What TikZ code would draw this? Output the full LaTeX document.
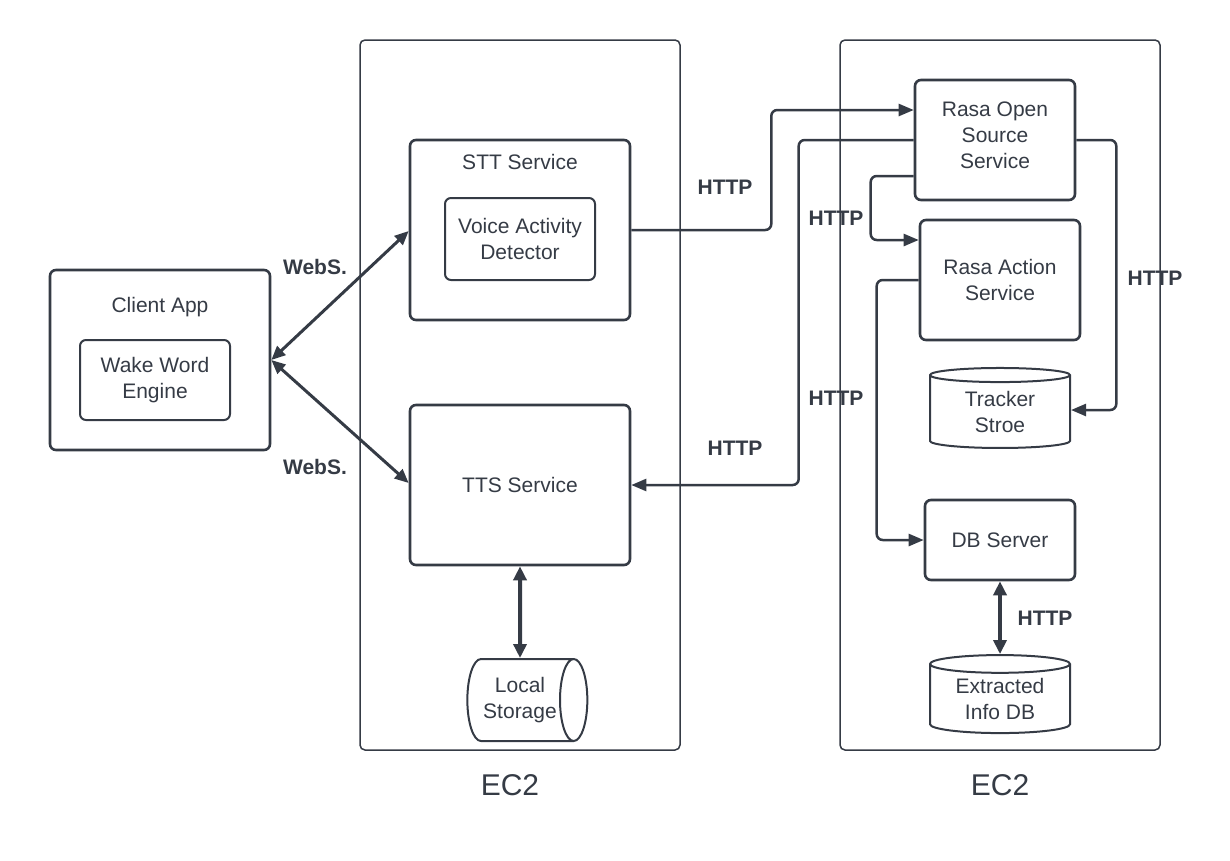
\documentclass[tikz,border=0pt]{standalone}
\usepackage{fontspec}
\setmainfont{Liberation Sans}
\usetikzlibrary{arrows.meta,shapes.geometric}
\definecolor{ink}{HTML}{353B45}
\begin{document}
\begin{tikzpicture}[x=1pt,y=-1pt,
    container/.style={draw=ink,line width=1.5pt,rounded corners=5pt},
    box/.style={draw=ink,line width=2.6pt,rounded corners=6pt,align=center,
      text=ink,font=\fontsize{21}{26}\selectfont,inner sep=0pt},
    title/.style={text=ink,font=\fontsize{21}{26}\selectfont},
    store/.style={cylinder,draw=ink,line width=2pt,align=center,text=ink,
      font=\fontsize{21}{26}\selectfont,inner sep=0pt},
    tag/.style={text=ink,font=\fontsize{21}{26}\selectfont\bfseries},
    link/.style={draw=ink,line width=2.5pt,rounded corners=6pt,
      -{Triangle[length=15pt,width=12pt]}},
    dlink/.style={draw=ink,line width=4pt,
      {Triangle[length=14pt,width=13pt]}-{Triangle[length=14pt,width=13pt]}},
    wlink/.style={draw=ink,line width=3pt,
      {Triangle[length=14pt,width=12pt]}-{Triangle[length=14pt,width=12pt]}}]
  \useasboundingbox (0,0) rectangle (1230,860);
  % the two EC2 machines
  \draw[container] (360,40) rectangle (680,750);
  \draw[container] (840,40) rectangle (1160,750);
  \node[text=ink,font=\fontsize{30}{36}\selectfont] (ec2left) at (510,785) {EC2};
  \node[text=ink,font=\fontsize{30}{36}\selectfont] (ec2right) at (1000,785) {EC2};
  % client
  \node[box,minimum width=220pt,minimum height=180pt] (client) at (160,360) {};
  \node[title] (clienttitle) at (160,307) {Client App};
  \node[box,line width=2pt,minimum width=150pt,minimum height=80pt] (wake) at (155,380) {Wake Word\\Engine};
  % first EC2
  \node[box,minimum width=220pt,minimum height=180pt] (stt) at (520,230) {};
  \node[title] (stttitle) at (520,162) {STT Service};
  \node[box,line width=2pt,minimum width=150pt,minimum height=82pt] (vad) at (520,239) {Voice Activity\\Detector};
  \node[box,minimum width=220pt,minimum height=160pt] (tts) at (520,485) {TTS Service};
  \node[store,aspect=0.6,minimum width=82pt,minimum height=120pt] (local) at (520,700) {Local\\Storage};
  % second EC2
  \node[box,minimum width=160pt,minimum height=120pt] (rasa) at (995,140) {Rasa Open\\Source\\Service\\[-17pt]};
  \node[box,minimum width=160pt,minimum height=120pt] (action) at (1000,280) {Rasa Action\\Service};
  \node[store,shape border rotate=90,aspect=0.2,minimum width=140pt,minimum height=80pt] (tracker) at (1000,412) {Tracker\\Stroe};
  \node[box,minimum width=150pt,minimum height=80pt] (dbserver) at (1000,540) {DB Server};
  \node[store,shape border rotate=90,aspect=0.2,minimum width=140pt,minimum height=78pt] (extracted) at (1000,699) {Extracted\\Info DB};
  % connectors
  \draw[wlink] (client.east) -- ([yshift=-1pt]stt.west);
  \draw[wlink] (client.east) -- ([yshift=2pt]tts.west);
  \draw[link] (stt.east) -- ++(140,0) |- ([yshift=30pt]rasa.west);
  \draw[link] (rasa.west) -- ++(-115,0) |- (tts.east);
  \draw[link] ([yshift=-36pt]rasa.west) -- ++(-43,0) |- ([yshift=40pt]action.west);
  \draw[link] (action.west) -- ++(-42,0) |- (dbserver.west);
  \draw[link] (rasa.east) -- ++(40,0) |- ([yshift=2pt]tracker.east);
  \draw[dlink] (tts.south) -- (local.north);
  \draw[dlink] (dbserver.south) -- (extracted.north);
  % labels
  \node[tag] (ws1) at (315,267) {WebS.};
  \node[tag] (ws2) at (315,467) {WebS.};
  \node[tag] (http1) at (725,187) {HTTP};
  \node[tag] (http2) at (836,218) {HTTP};
  \node[tag] (http3) at (836,398) {HTTP};
  \node[tag] (http4) at (735,448) {HTTP};
  \node[tag] (http5) at (1155,278) {HTTP};
  \node[tag] (http6) at (1045,618) {HTTP};
\end{tikzpicture}
\end{document}
